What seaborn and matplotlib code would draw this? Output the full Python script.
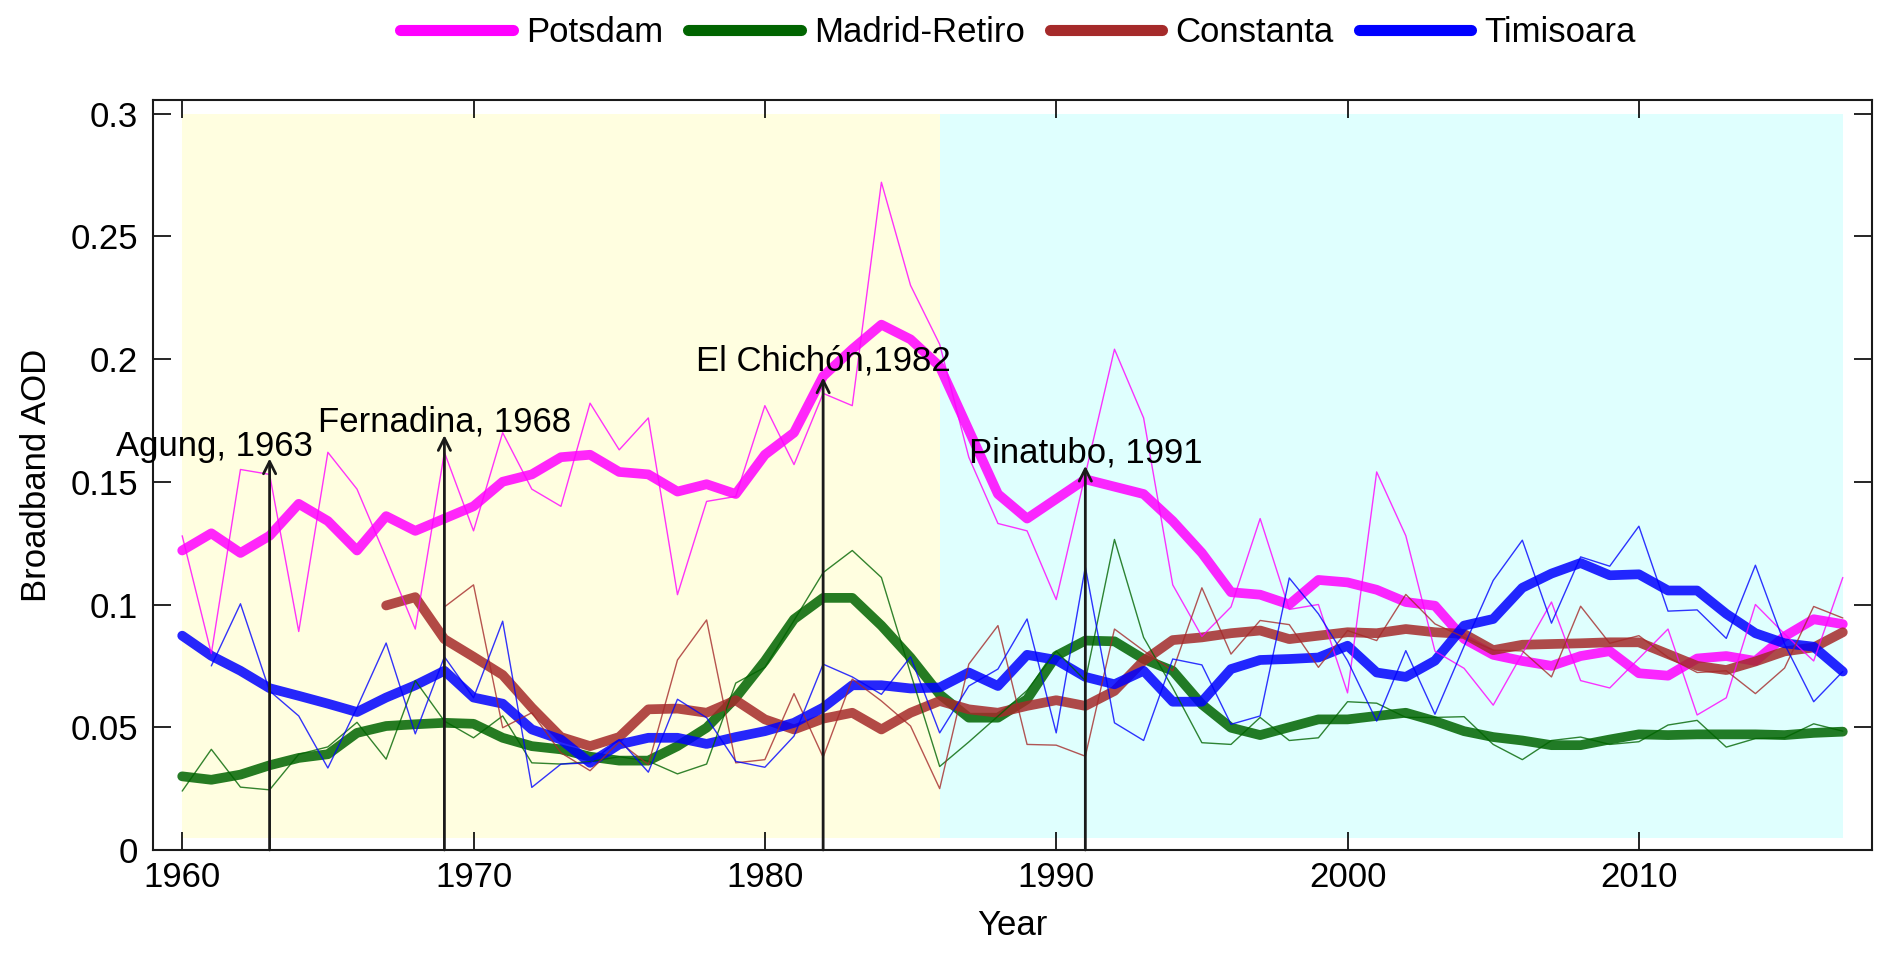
import numpy as np
import pandas as pd
import matplotlib
matplotlib.use('Agg')
import matplotlib.pyplot as plt
import seaborn as sns

# ---- data ----
years = list(range(1960, 2018))

potsdam_smooth = [0.122, 0.129, 0.121, 0.128, 0.141, 0.134, 0.122, 0.136, 0.130, 0.135,
                  0.140, 0.150, 0.153, 0.160, 0.161, 0.154, 0.153, 0.146, 0.149, 0.145,
                  0.161, 0.170, 0.193, 0.204, 0.214, 0.208, 0.197, 0.171, 0.145, 0.135,
                  0.143, 0.151, 0.148, 0.145, 0.134, 0.121, 0.105, 0.104, 0.100, 0.110,
                  0.109, 0.106, 0.101, 0.0995, 0.086, 0.0795, 0.077, 0.075, 0.079, 0.081,
                  0.072, 0.071, 0.078, 0.079, 0.077, 0.087, 0.094, 0.092]
potsdam_annual = [0.128, 0.080, 0.155, 0.153, 0.089, 0.162, 0.147, 0.119, 0.090, 0.162,
                  0.130, 0.170, 0.147, 0.140, 0.182, 0.163, 0.176, 0.104, 0.142, 0.144,
                  0.181, 0.157, 0.186, 0.181, 0.272, 0.230, 0.206, 0.160, 0.133, 0.130,
                  0.102, 0.153, 0.204, 0.176, 0.108, 0.087, 0.099, 0.135, 0.098, 0.100,
                  0.064, 0.154, 0.128, 0.081, 0.074, 0.059, 0.080, 0.101, 0.069, 0.066,
                  0.078, 0.090, 0.055, 0.062, 0.100, 0.088, 0.077, 0.111]

madrid_smooth = [0.030, 0.0286, 0.0307, 0.0345, 0.0375, 0.039, 0.0477, 0.0505, 0.0512, 0.0518,
                 0.0514, 0.0457, 0.0423, 0.041, 0.038, 0.0364, 0.0364, 0.0423, 0.0498, 0.062,
                 0.077, 0.094, 0.1027, 0.1027, 0.0914, 0.0784, 0.0634, 0.0539, 0.0539, 0.0614,
                 0.0791, 0.0853, 0.085, 0.0778, 0.073, 0.0593, 0.0498, 0.0468, 0.050, 0.0532,
                 0.0532, 0.0546, 0.0559, 0.0525, 0.0484, 0.046, 0.0446, 0.0427, 0.0427, 0.045,
                 0.0471, 0.0468, 0.0471, 0.0471, 0.0471, 0.0468, 0.0477, 0.0482]
madrid_annual = [0.024, 0.041, 0.0256, 0.0245, 0.039, 0.042, 0.052, 0.037, 0.069, 0.0525,
                 0.0457, 0.0546, 0.0355, 0.035, 0.036, 0.038, 0.0362, 0.031, 0.035, 0.068,
                 0.0744, 0.0935, 0.113, 0.122, 0.111, 0.072, 0.034, 0.044, 0.0545, 0.065,
                 0.081, 0.069, 0.1265, 0.0866, 0.066, 0.0437, 0.043, 0.054, 0.0446, 0.0457,
                 0.0604, 0.0598, 0.054, 0.054, 0.0543, 0.043, 0.0368, 0.0446, 0.046, 0.043,
                 0.0441, 0.0509, 0.0528, 0.0419, 0.0454, 0.0457, 0.0514, 0.0484]

constanta_smooth_years = list(range(1967, 2018))
constanta_smooth = [0.0996, 0.103, 0.0859, 0.0787, 0.0713, 0.058, 0.046, 0.0423, 0.046, 0.0573,
                    0.0576, 0.0559, 0.061, 0.0532, 0.0491, 0.0535, 0.0559, 0.0491, 0.0559, 0.0607,
                    0.0573, 0.0559, 0.0587, 0.061, 0.0587, 0.0648, 0.0771, 0.0855, 0.0866, 0.0883,
                    0.0894, 0.0859, 0.0873, 0.0887, 0.0883, 0.090, 0.0887, 0.088, 0.0814, 0.0836,
                    0.0839, 0.0842, 0.0846, 0.0846, 0.0798, 0.075, 0.0733, 0.0768, 0.0809, 0.0825,
                    0.0887]
constanta_annual_years = list(range(1969, 2018))
constanta_annual = [0.099, 0.108, 0.0498, 0.0559, 0.0396, 0.0323, 0.044, 0.0348, 0.0774, 0.0937,
                    0.0355, 0.0368, 0.0637, 0.0378, 0.0696, 0.0607, 0.0505, 0.025, 0.0757, 0.0914,
                    0.043, 0.0427, 0.0382, 0.090, 0.0812, 0.073, 0.1068, 0.0798, 0.0935, 0.0918,
                    0.0744, 0.0894, 0.0853, 0.1041, 0.0921, 0.0866, 0.0814, 0.0811, 0.0705, 0.0993,
                    0.0842, 0.0873, 0.0785, 0.0723, 0.073, 0.0637, 0.0741, 0.0992, 0.0945]

timisoara_smooth = [0.0873, 0.0791, 0.073, 0.0659, 0.0628, 0.0596, 0.0562, 0.0621, 0.0671, 0.073,
                    0.0621, 0.0596, 0.0491, 0.045, 0.0355, 0.043, 0.0457, 0.0457, 0.0432, 0.046,
                    0.0484, 0.0518, 0.058, 0.0671, 0.0671, 0.0658, 0.0662, 0.0723, 0.0668, 0.0795,
                    0.0774, 0.0705, 0.0675, 0.073, 0.0604, 0.0604, 0.0737, 0.0774, 0.0778, 0.0784,
                    0.0832, 0.0723, 0.0705, 0.0771, 0.0914, 0.0941, 0.1068, 0.1126, 0.1169, 0.1119,
                    0.1123, 0.1057, 0.1057, 0.0962, 0.0883, 0.0842, 0.0828, 0.0727]
timisoara_annual_years = list(range(1961, 2018))
timisoara_annual = [0.075, 0.1003, 0.0648, 0.0546, 0.0334, 0.058, 0.0843, 0.0473, 0.0787,
                    0.062, 0.0932, 0.0255, 0.035, 0.0355, 0.045, 0.0317, 0.0614, 0.0539, 0.0361,
                    0.0337, 0.0464, 0.0757, 0.0705, 0.0634, 0.0787, 0.0477, 0.0668, 0.0737, 0.0941,
                    0.0477, 0.1153, 0.0518, 0.0446, 0.0778, 0.0754, 0.0512, 0.0546, 0.1108, 0.0962,
                    0.0771, 0.0525, 0.0812, 0.0553, 0.083, 0.1098, 0.1262, 0.0924, 0.1194, 0.1156,
                    0.1319, 0.0973, 0.0978, 0.0862, 0.116, 0.0839, 0.0604, 0.0727]

stations = ['Potsdam', 'Madrid-Retiro', 'Constanta', 'Timisoara']
station_colors = ['#FF00FF', '#006400', '#A52A2A', '#0000FF']

# shaded periods (start, end, colour)
periods = [(1960, 1986, '#FFFEE0'), (1986, 2017, '#DFFFFE')]

# volcanic eruptions: label, arrow year, arrow tip, text x, text baseline
volcano_labels = ['Agung, 1963', 'Fernadina, 1968', 'El Chichón,1982', 'Pinatubo, 1991']
volcano_arrow_x = [1963, 1969, 1982, 1991]
volcano_arrow_tip = [0.1595, 0.169, 0.1925, 0.1565]
volcano_text_x = [1961.1, 1969, 1982, 1991]
volcano_text_y = [0.1605, 0.1705, 0.1955, 0.158]

# ---- assemble ----
smooth_df = pd.concat([
    pd.DataFrame({'year': years, 'aod': potsdam_smooth, 'station': 'Potsdam'}),
    pd.DataFrame({'year': years, 'aod': madrid_smooth, 'station': 'Madrid-Retiro'}),
    pd.DataFrame({'year': constanta_smooth_years, 'aod': constanta_smooth, 'station': 'Constanta'}),
    pd.DataFrame({'year': years, 'aod': timisoara_smooth, 'station': 'Timisoara'}),
], ignore_index=True)
annual_df = pd.concat([
    pd.DataFrame({'year': years, 'aod': potsdam_annual, 'station': 'Potsdam'}),
    pd.DataFrame({'year': years, 'aod': madrid_annual, 'station': 'Madrid-Retiro'}),
    pd.DataFrame({'year': constanta_annual_years, 'aod': constanta_annual, 'station': 'Constanta'}),
    pd.DataFrame({'year': timisoara_annual_years, 'aod': timisoara_annual, 'station': 'Timisoara'}),
], ignore_index=True)

sns.set_style('ticks')
plt.rcParams['font.family'] = ['Liberation Sans', 'DejaVu Sans']
plt.rcParams['font.size'] = 25
for key in ['text.color', 'axes.labelcolor', 'xtick.color', 'ytick.color', 'axes.edgecolor']:
    plt.rcParams[key] = 'black'

fig = plt.figure(figsize=(18.92, 9.6), dpi=100)
ax = fig.add_axes([0.0809, 0.1146, 0.9085, 0.7812])

for start, end, col in periods:
    ax.fill_between([start, end], 0.005, 0.3, color=col, lw=0, zorder=0)

palette = dict(zip(stations, station_colors))

sns.lineplot(data=smooth_df, x='year', y='aod', hue='station', hue_order=stations,
             palette=palette, lw=7, alpha=0.85, ax=ax, legend=True, zorder=3,
             estimator=None, sort=False)
sns.lineplot(data=annual_df, x='year', y='aod', hue='station', hue_order=stations,
             palette=palette, lw=1.0, alpha=0.8, ax=ax, legend=False, zorder=4,
             estimator=None, sort=False)

for lab, ax_x, tip, tx, ty in zip(volcano_labels, volcano_arrow_x, volcano_arrow_tip,
                                   volcano_text_x, volcano_text_y):
    ax.annotate('', xy=(ax_x, tip), xytext=(ax_x, 0),
                arrowprops=dict(arrowstyle='->', lw=2, color='#1a1a1a',
                                shrinkA=0, shrinkB=0, mutation_scale=22),
                zorder=6)
    ax.text(tx, ty, lab, ha='center', va='baseline', fontsize=25, color='black', zorder=7)

ax.set_xlim(1959, 2018)
ax.set_ylim(0, 0.3055)
ax.set_xticks([1960, 1970, 1980, 1990, 2000, 2010])
ax.set_yticks([0, 0.05, 0.1, 0.15, 0.2, 0.25, 0.3])
ax.set_yticklabels(['0', '0.05', '0.1', '0.15', '0.2', '0.25', '0.3'])
ax.tick_params(direction='in', length=13, width=1.2, top=True, right=True,
               labelsize=25, color='black', labelcolor='black')
ax.tick_params(axis='x', pad=8)
ax.tick_params(axis='y', pad=11)
for sp in ax.spines.values():
    sp.set_linewidth(1.5)
    sp.set_color('#1a1a1a')
ax.set_xlabel('Year', fontsize=25, labelpad=11, color='black')
ax.set_ylabel('Broadband AOD', fontsize=25, labelpad=12, color='black')

handles, labels = ax.get_legend_handles_labels()
ax.get_legend().remove()
leg = fig.legend(handles, labels, loc='center', bbox_to_anchor=(0.538, 0.966), ncol=4,
                 frameon=False, fontsize=25, handlelength=3.25, handletextpad=0.37,
                 columnspacing=0.72, borderaxespad=0)
for h in leg.legend_handles:
    h.set_alpha(1)
    h.set_linewidth(8)

fig.savefig('out.png', dpi=100)
